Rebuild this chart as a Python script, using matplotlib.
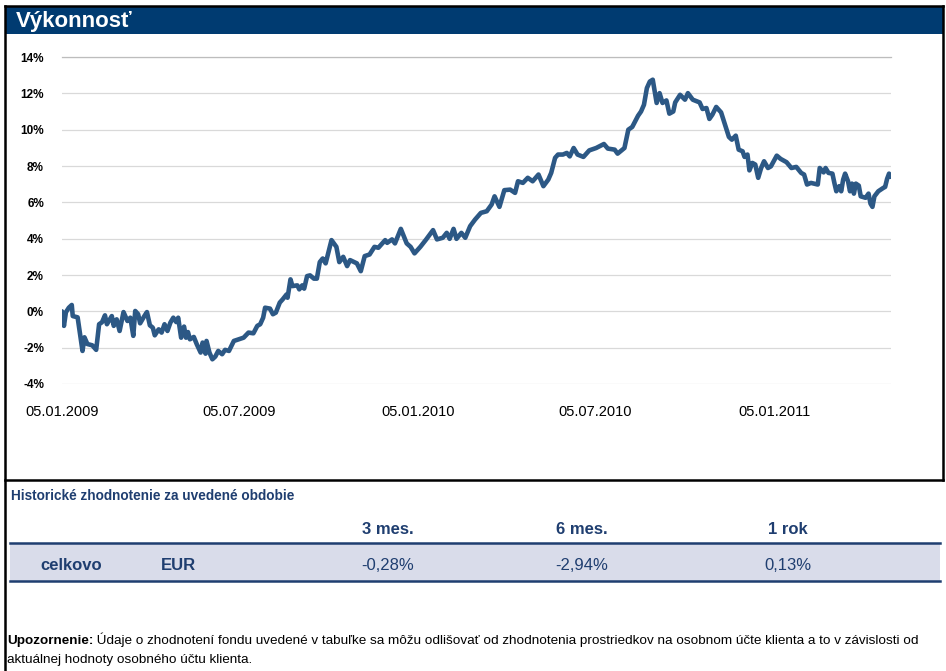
import numpy as np
import matplotlib
matplotlib.use("Agg")
import matplotlib.pyplot as plt
from matplotlib.patches import Rectangle
from matplotlib.ticker import FuncFormatter

plt.rcParams['font.family'] = ['Liberation Sans', 'DejaVu Sans']

# Data: days since 05.01.2009 and fund performance in %
start = np.datetime64('2009-01-05')
days = [0, 2, 4, 7, 10, 11, 16, 21, 23, 26, 31, 35, 38, 41, 44, 46, 51, 53, 56, 59,
        63, 67, 70, 73, 75, 78, 80, 84, 87, 90, 93, 95, 99, 102, 105, 108, 111, 114, 117, 119,
        122, 125, 127, 129, 131, 135, 138, 142, 144, 147, 148, 151, 154, 157, 160, 164, 167, 171, 176, 181,
        186, 191, 196, 200, 203, 206, 208, 213, 216, 219, 223, 226, 230, 231, 234, 236, 241, 243, 246, 248,
        251, 254, 258, 261, 264,
        267, 270, 276, 281, 284, 288, 292, 295, 302, 306, 310, 315, 320, 324, 331, 333, 338, 341, 347, 353,
        357, 361, 367, 373, 380, 384, 390, 394, 397, 401, 404, 409, 413, 418, 423, 429, 435, 440, 443, 448,
        453, 459, 464, 467, 472, 477, 482, 488, 493, 498, 501, 505, 508, 513, 517, 520, 524, 528, 534, 540,
        547, 555, 559, 566, 569,
        576, 580, 584, 590, 593, 596, 599, 602, 605, 609, 612, 615, 619, 622, 626, 628, 633, 638, 641, 646,
        653, 656, 660, 663, 666, 670, 675, 679, 683, 686, 690, 693, 697, 699, 702, 704, 707, 710, 713, 716,
        719, 723, 726, 732, 736, 742, 747, 752, 757, 760, 763, 767, 774, 776, 780, 782, 785, 789, 791, 793,
        796, 798, 800, 802, 805, 807, 809, 811, 813, 816, 818, 823, 826, 828, 830, 832, 836, 841, 843, 845,
        847, 849]
perf = [0.0, -0.8, -0.05, 0.2, 0.35, -0.26, -0.33, -2.18, -1.43, -1.8, -1.87, -2.12, -0.71, -0.6, -0.22, -0.71, -0.26, -0.8, -0.44, -1.08,
        -0.04, -0.53, -0.35, -1.35, 0.02, -0.16, -0.66, -0.29, -0.04, -0.77, -0.9, -1.32, -0.99, -1.17, -0.71, -1.08, -0.62, -0.35, -0.59, -0.35,
        -1.45, -0.84, -1.45, -1.14, -1.54, -1.41, -1.81, -2.27, -1.72, -2.33, -1.63, -2.27, -2.64, -2.49, -2.18, -2.36, -2.12, -2.18, -1.63, -1.54,
        -1.45, -1.17, -1.21, -0.8, -0.71, -0.35, 0.2, 0.15, -0.16, -0.07, 0.48, 0.66, 0.93, 0.75, 1.76, 1.39, 1.43, 1.21, 1.43, 1.25,
        1.94, 1.98, 1.8, 1.8, 2.71,
        2.91, 2.64, 3.92, 3.55, 2.71, 3.0, 2.49, 2.82, 2.64, 2.21, 3.04, 3.13, 3.55, 3.50, 3.92, 3.77, 3.96, 3.74, 4.54, 3.74,
        3.55, 3.19, 3.55, 3.96, 4.47, 3.96, 4.05, 4.32, 3.99, 4.54, 3.99, 4.32, 4.05, 4.69, 5.05, 5.42, 5.51, 5.88, 6.33, 5.75,
        6.67, 6.70, 6.52, 7.16, 7.07, 7.35, 7.16, 7.53, 6.89, 7.25, 7.62, 8.45, 8.63, 8.63, 8.72, 8.53, 8.99, 8.63, 8.50, 8.86,
        8.99, 9.21, 8.96, 8.90, 8.68,
        8.99, 10.0, 10.15, 10.77, 11.0, 11.37, 12.29, 12.65, 12.75, 11.47, 12.01, 11.47, 11.61, 10.88, 11.0, 11.50, 11.92, 11.65, 12.01, 11.65,
        11.50, 11.14, 11.19, 10.59, 10.82, 11.25, 10.95, 10.27, 9.6, 9.45, 9.67, 8.90, 8.81, 8.50, 8.63, 7.76, 8.17, 8.08, 7.35, 7.89,
        8.26, 7.89, 7.98, 8.57, 8.39, 8.21, 7.89, 7.95, 7.62, 7.53, 6.98, 7.07, 6.98, 7.89, 7.65, 7.89, 7.62, 7.58, 7.07, 6.61,
        6.89, 6.61, 7.25, 7.58, 7.16, 6.61, 7.03, 6.48, 7.03, 6.92, 6.33, 6.25, 6.48, 5.93, 5.75, 6.33, 6.61, 6.79, 6.85, 7.29,
        7.58, 7.40]
tick_dates = ['2009-01-05', '2009-07-05', '2010-01-05', '2010-07-05', '2011-01-05']
y_ticks = [-4, -2, 0, 2, 4, 6, 8, 10, 12, 14]

# Table data
periods = ['3 mes.', '6 mes.', '1 rok']
returns = [-0.28, -2.94, 0.13]
row_label = 'celkovo'
currency = 'EUR'

navy = '#003B71'
line_col = '#2C5885'
txt_blue = '#1F3E70'

W, H = 946, 671
fig = plt.figure(figsize=(W / 100, H / 100), dpi=100)

# background layer in pixel coordinates for frame, title bar, table
bg = fig.add_axes([0, 0, 1, 1])
bg.set_xlim(0, W)
bg.set_ylim(H, 0)
bg.axis('off')

bg.add_patch(Rectangle((5, 6), 938, 28, color=navy, lw=0))
bg.text(16, 21, 'Výkonnosť', color='white', fontsize=16, fontweight='bold', va='center', ha='left')
bg.plot([5, 943], [6, 6], color='black', lw=1.8)
bg.plot([5, 5], [6, H], color='black', lw=1.8)
bg.plot([943, 943], [6, 480], color='black', lw=1.8)
bg.plot([5, 943], [480, 480], color='black', lw=1.8)

# chart
ax = fig.add_axes([62 / W, 1 - 384 / H, (891 - 62) / W, (384 - 57) / H])
ax.patch.set_alpha(0)
x = start + np.array(days).astype('timedelta64[D]')
ax.plot(x, perf, color=line_col, lw=3.3, solid_joinstyle='round', solid_capstyle='round')
ax.set_xlim(start, start + np.timedelta64(849, 'D'))
ax.set_ylim(-4, 14)
ax.set_yticks(y_ticks)
ax.yaxis.set_major_formatter(FuncFormatter(lambda v, p: f'{v:.0f}%'))
ax.set_xticks([np.datetime64(d) for d in tick_dates])
ax.set_xticklabels([f'{d[8:10]}.{d[5:7]}.{d[0:4]}' for d in tick_dates])
ax.grid(axis='y', color='#d9d9d9', lw=0.9)
ax.set_axisbelow(True)
for s in ['left', 'right', 'bottom']:
    ax.spines[s].set_visible(False)
ax.spines['top'].set_color('#bdbdbd')
ax.spines['top'].set_linewidth(0.9)
ax.tick_params(axis='y', length=0, pad=13, labelsize=8.5)
ax.tick_params(axis='x', length=0, pad=15, labelsize=10.5)
for lb in ax.get_yticklabels():
    lb.set_fontweight('bold')

# table
bg.text(11, 496, 'Historické zhodnotenie za uvedené obdobie', color=txt_blue,
        fontsize=9.8, fontweight='bold', va='center')
col_x = [388, 582, 788]
for cx, p, r in zip(col_x, periods, returns):
    bg.text(cx, 530, p, color=txt_blue, fontsize=12, fontweight='bold', ha='center', va='center')
    bg.text(cx, 565, f'{r:.2f}%'.replace('.', ','), color=txt_blue, fontsize=12, ha='center', va='center')
bg.add_patch(Rectangle((10, 543), 930, 38, color='#D9DCEA', lw=0, zorder=0))
bg.plot([10, 940], [542.5, 542.5], color=txt_blue, lw=1.8)
bg.plot([10, 940], [581, 581], color=txt_blue, lw=1.8)
bg.text(40, 565, row_label, color=txt_blue, fontsize=12, fontweight='bold', va='center')
bg.text(161, 565, currency, color=txt_blue, fontsize=12, fontweight='bold', va='center')

# footer note
t1 = bg.text(7, 641, 'Upozornenie:', fontsize=9.7, fontweight='bold', va='center')
bg.annotate(' Údaje o zhodnotení fondu uvedené v tabuľke sa môžu odlišovať od zhodnotenia prostriedkov '
            'na osobnom účte klienta a to v závislosti od', xy=(1, 0), xycoords=t1,
            fontsize=9.7, va='bottom', ha='left')
bg.text(7, 660, 'aktuálnej hodnoty osobného účtu klienta.', fontsize=9.7, va='center')

fig.savefig('out.png', dpi=100)
